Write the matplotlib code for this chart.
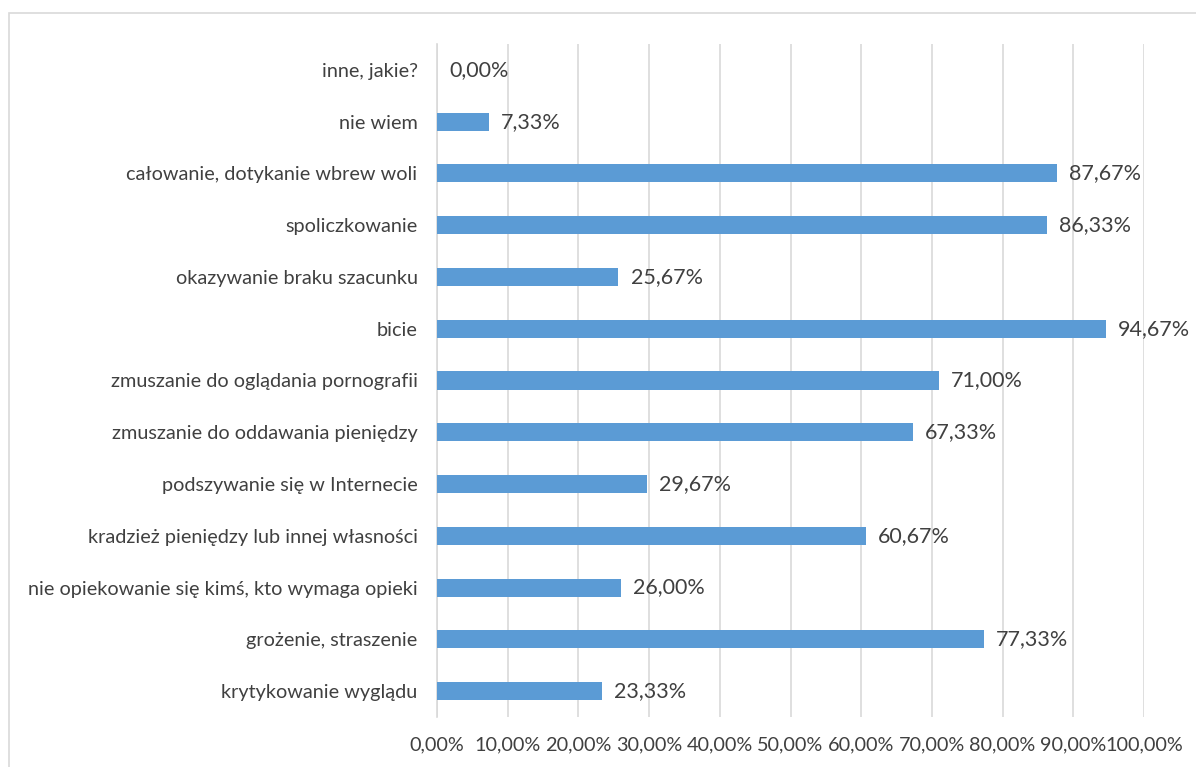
import matplotlib.pyplot as plt
from matplotlib.patches import Rectangle
from matplotlib.ticker import FuncFormatter

categories = [
    "inne, jakie?",
    "nie wiem",
    "całowanie, dotykanie wbrew woli",
    "spoliczkowanie",
    "okazywanie braku szacunku",
    "bicie",
    "zmuszanie do oglądania pornografii",
    "zmuszanie do oddawania pieniędzy",
    "podszywanie się w Internecie",
    "kradzież pieniędzy lub innej własności",
    "nie opiekowanie się kimś, kto wymaga opieki",
    "grożenie, straszenie",
    "krytykowanie wyglądu",
]
values = [0.00, 7.33, 87.67, 86.33, 25.67, 94.67, 71.00, 67.33, 29.67, 60.67, 26.00, 77.33, 23.33]
xticks = [0, 10, 20, 30, 40, 50, 60, 70, 80, 90, 100]

plt.rcParams['font.family'] = ['Lato', 'DejaVu Sans']
text_col = "#404040"

fig = plt.figure(figsize=(11.96, 7.67), dpi=100)
ax = fig.add_axes([437 / 1196, 1 - 717 / 767, (1144 - 437) / 1196, (717 - 44) / 767])

# outer chart border
fig.patches.append(Rectangle((9 / 1196, -0.1), 1.2, 1 - 13 / 767 + 0.1,
                             transform=fig.transFigure, fill=False,
                             edgecolor="#d9d9d9", linewidth=1.2))

ypos = list(range(len(categories)))
ax.barh(ypos, values, height=0.35, color="#5B9BD5", zorder=3)

for y, v in zip(ypos, values):
    ax.text(v + 1.7, y, f"{v:.2f}%".replace(".", ","), va="center", ha="left",
            fontsize=15.5, color=text_col)

ax.set_ylim(len(categories) - 0.5, -0.5)
ax.set_xlim(0, 100)
ax.set_yticks(ypos)
ax.set_yticklabels(categories, fontsize=14.3, color=text_col)
ax.set_xticks(xticks)
ax.xaxis.set_major_formatter(FuncFormatter(lambda v, p: f"{v:.2f}%".replace(".", ",")))
ax.tick_params(axis="x", labelsize=14.3, labelcolor=text_col, length=0, pad=14)
ax.tick_params(axis="y", length=0, pad=14)
ax.grid(axis="x", color="#d9d9d9", linewidth=1.2, zorder=0)

for s in ["top", "right", "bottom"]:
    ax.spines[s].set_visible(False)
ax.spines["left"].set_color("#d9d9d9")
ax.spines["left"].set_linewidth(1.2)

fig.savefig("out.png", dpi=100)
